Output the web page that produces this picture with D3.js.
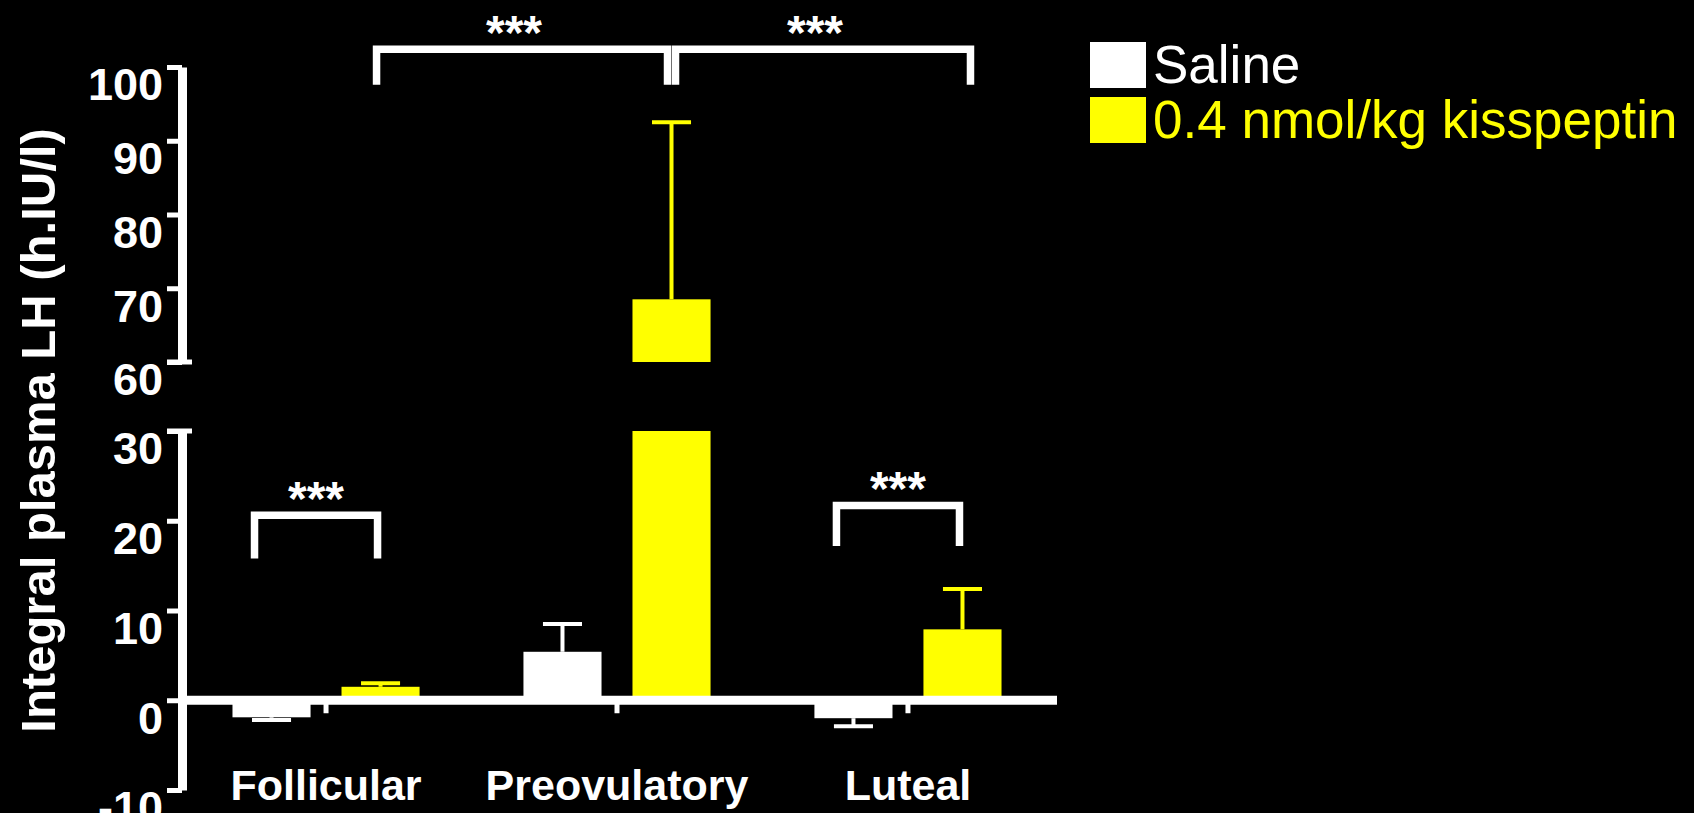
<!DOCTYPE html>
<html>
<head>
<meta charset="utf-8">
<script src="https://cdn.jsdelivr.net/npm/d3@7"></script>
<style>
  html, body { margin: 0; padding: 0; background: #000; }
  svg { display: block; }
</style>
</head>
<body>
<svg id="chart" width="1694" height="813"></svg>
<script>
// Integrated plasma LH by menstrual phase, saline vs kisspeptin (mean ± SEM)
const phases = ["Follicular", "Preovulatory", "Luteal"];
const treatments = ["Saline", "0.4 nmol/kg kisspeptin"];
const salineMean = [-1.9, 5.4, -2.0];
const salineSem = [0.3, 3.1, 0.9];
const kisspeptinMean = [1.5, 68.5, 7.9];
const kisspeptinSem = [0.4, 24.0, 4.5];
const lowerTicks = [-10, 0, 10, 20, 30];
const upperTicks = [60, 70, 80, 90, 100];
// significance brackets between [phase, treatment index] pairs, heights in h.IU/l
const bracketFrom = [["Follicular", 0], ["Luteal", 0], ["Follicular", 1], ["Preovulatory", 1]];
const bracketTo = [["Follicular", 1], ["Luteal", 1], ["Preovulatory", 1], ["Luteal", 1]];
const bracketLevel = [20.6, 21.7, 102.4, 102.4];
const bracketLegEnd = [15.8, 17.2, 97.6, 97.6];
const bracketLabel = ["***", "***", "***", "***"];

const WHITE = "#ffffff", YELLOW = "#ffff00";
const colors = [WHITE, YELLOW];
const FONT = "'Liberation Sans', Arial, Helvetica, sans-serif";

const means = [salineMean, kisspeptinMean];
const sems = [salineSem, kisspeptinSem];
const rows = [];
phases.forEach((p, i) => treatments.forEach((t, j) => {
  rows.push({ phase: p, t: j, mean: means[j][i], sem: sems[j][i] });
}));

const svg = d3.select("#chart");
svg.append("rect").attr("width", 1694).attr("height", 813).attr("fill", "#000");

// broken y axis: lower segment -10..30, upper segment 60..100
const axisX = 182;
const yLow = d3.scaleLinear().domain([-10, 30]).range([790, 431]);
const yHigh = d3.scaleLinear().domain([60, 100]).range([362, 67]);
const y = v => (v <= 30 ? yLow(v) : yHigh(v));
const BREAK_LOW = 30, BREAK_HIGH = 60;

const x0 = d3.scaleBand().domain(phases).range([axisX, 1052])
  .paddingInner(0.357).paddingOuter(0.1735);
const x1 = d3.scaleBand().domain([0, 1]).range([0, x0.bandwidth()]).paddingInner(0.284);
const barCenter = (p, t) => x0(p) + x1(t) + x1.bandwidth() / 2;

// bars
const bars = svg.append("g");
rows.forEach(d => {
  const bx = x0(d.phase) + x1(d.t);
  const bw = x1.bandwidth();
  if (d.mean > BREAK_LOW) {
    bars.append("rect").attr("x", bx).attr("width", bw)
      .attr("y", yLow(BREAK_LOW)).attr("height", yLow(0) - yLow(BREAK_LOW))
      .attr("fill", colors[d.t]);
    bars.append("rect").attr("x", bx).attr("width", bw)
      .attr("y", yHigh(d.mean)).attr("height", yHigh(BREAK_HIGH) - yHigh(d.mean))
      .attr("fill", colors[d.t]);
  } else {
    const y0 = y(0), y1 = y(d.mean);
    bars.append("rect").attr("x", bx).attr("width", bw)
      .attr("y", Math.min(y0, y1)).attr("height", Math.abs(y1 - y0))
      .attr("fill", colors[d.t]);
  }
});

// error bars (one-sided, away from zero)
const errs = svg.append("g").attr("stroke-width", 4).attr("fill", "none");
rows.forEach(d => {
  const cx = barCenter(d.phase, d.t);
  const dir = d.mean >= 0 ? 1 : -1;
  const yA = y(d.mean), yB = y(d.mean + dir * d.sem);
  const capW = x1.bandwidth() * 0.5;
  errs.append("line").attr("x1", cx).attr("x2", cx).attr("y1", yA).attr("y2", yB)
    .attr("stroke", colors[d.t]);
  errs.append("line").attr("x1", cx - capW / 2).attr("x2", cx + capW / 2)
    .attr("y1", yB).attr("y2", yB).attr("stroke", colors[d.t]);
});

// x axis
const xAxisY = y(0);
svg.append("line").attr("x1", axisX).attr("x2", 1057).attr("y1", xAxisY).attr("y2", xAxisY)
  .attr("stroke", WHITE).attr("stroke-width", 9);
const gx = svg.append("g").attr("transform", `translate(0,${xAxisY})`)
  .call(d3.axisBottom(x0).tickSize(13).tickPadding(56).tickSizeOuter(0));
gx.select(".domain").remove();
gx.selectAll(".tick line").attr("stroke", WHITE).attr("stroke-width", 5);
gx.selectAll(".tick text").attr("fill", WHITE).attr("font-family", FONT)
  .attr("font-size", 43).attr("font-weight", "bold");

// y axis segments
function styleY(g) {
  g.select(".domain").attr("stroke", WHITE).attr("stroke-width", 9);
  g.selectAll(".tick line").attr("stroke", WHITE).attr("stroke-width", 5);
  g.selectAll(".tick text").attr("fill", WHITE).attr("font-family", FONT)
    .attr("font-size", 45).attr("font-weight", "bold").attr("dy", "0.73em");
}
const fmt = d => String(d);
const gyHigh = svg.append("g").attr("transform", `translate(${axisX},0)`)
  .call(d3.axisLeft(yHigh).tickValues(upperTicks).tickFormat(fmt)
    .tickSize(15).tickSizeOuter(0).tickPadding(4));
styleY(gyHigh);
const gyLow = svg.append("g").attr("transform", `translate(${axisX},0)`)
  .call(d3.axisLeft(yLow).tickValues(lowerTicks).tickFormat(fmt)
    .tickSize(15).tickSizeOuter(0).tickPadding(4));
styleY(gyLow);
// break caps on either side of the gap
[yHigh(BREAK_HIGH), yLow(BREAK_LOW)].forEach(yy => {
  svg.append("line").attr("x1", axisX - 15).attr("x2", axisX + 10)
    .attr("y1", yy).attr("y2", yy).attr("stroke", WHITE).attr("stroke-width", 5);
});

// y axis title
svg.append("text")
  .attr("transform", `translate(55,${(yHigh(100) + yLow(-10)) / 2 + 2}) rotate(-90)`)
  .attr("text-anchor", "middle").attr("fill", WHITE)
  .attr("font-family", FONT).attr("font-size", 49).attr("font-weight", "bold")
  .text("Integral plasma LH (h.IU/l)");

// significance brackets
const br = svg.append("g").attr("stroke", WHITE).attr("stroke-width", 7.5)
  .attr("fill", "none").attr("stroke-linejoin", "miter");
bracketFrom.forEach((f, i) => {
  const t = bracketTo[i];
  const sameGroup = f[0] === t[0];
  let xa = barCenter(f[0], f[1]);
  let xb = barCenter(t[0], t[1]);
  if (sameGroup) { xa -= 17; xb -= 3; } else { xa += (i === 2 ? -4 : 4); xb += (i === 2 ? -4 : 8); }
  const yl = y(bracketLevel[i]);
  const ye = y(bracketLegEnd[i]);
  br.append("path").attr("d", `M${xa},${ye}V${yl}H${xb}V${ye}`);
  svg.append("text").attr("x", (xa + xb) / 2 + (sameGroup ? 0 : -8)).attr("y", yl)
    .attr("text-anchor", "middle").attr("fill", WHITE)
    .attr("font-family", FONT).attr("font-size", 48).attr("font-weight", "bold")
    .text(bracketLabel[i]);
});

// legend
const lg = svg.append("g").attr("transform", "translate(1090,42)");
treatments.forEach((name, i) => {
  const row = lg.append("g").attr("transform", `translate(0,${i * 55})`);
  row.append("rect").attr("width", 56).attr("height", 46).attr("fill", colors[i]);
  row.append("text").attr("x", 63).attr("y", 41).attr("fill", colors[i])
    .attr("font-family", FONT).attr("font-size", 53).text(name);
});
</script>
</body>
</html>
